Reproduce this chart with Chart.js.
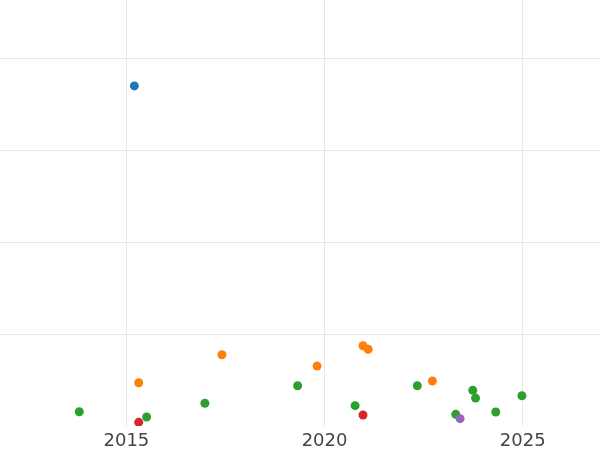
<!DOCTYPE html>
<html>
<head>
<meta charset="utf-8">
<script src="https://cdn.jsdelivr.net/npm/chart.js@4"></script>
<style>
  html, body { margin: 0; padding: 0; background: #fff; }
  canvas { display: block; }
</style>
</head>
<body>
<canvas id="chart" width="600" height="450"></canvas>
<script>
// points, [year, value]
const bluePoints = [[2015.20, 3.70]];
const orangePoints = [[2015.31, 0.47], [2017.41, 0.775], [2019.81, 0.652], [2020.97, 0.873], [2021.10, 0.834], [2022.72, 0.489]];
const greenPoints = [[2013.81, 0.155], [2015.51, 0.098], [2016.98, 0.247], [2019.32, 0.438], [2020.77, 0.221], [2022.34, 0.438],
                     [2023.31, 0.127], [2023.74, 0.388], [2023.81, 0.304], [2024.32, 0.152], [2024.98, 0.329]];
const redPoints = [[2015.31, 0.040], [2020.97, 0.120]];
const purplePoints = [[2023.42, 0.080]];

const xTicks = [2015, 2020, 2025];
const yGrid = [1, 2, 3, 4];

function toXY(pts) {
    return pts.map(p => ({ x: p[0], y: p[1] }));
}

function series(label, pts, color) {
    return {
        label: label,
        data: toXY(pts),
        backgroundColor: color,
        borderWidth: 0,
        pointRadius: 4.5,
        pointHoverRadius: 4.5
    };
}

new Chart(document.getElementById("chart").getContext("2d"), {
    type: "scatter",
    data: {
        datasets: [
            series("purple", purplePoints, "#9467bd"),
            series("red", redPoints, "#d62728"),
            series("green", greenPoints, "#2ca02c"),
            series("orange", orangePoints, "#ff7f0e"),
            series("blue", bluePoints, "#1f77b4")
        ]
    },
    options: {
        responsive: false,
        animation: false,
        layout: { padding: 0, autoPadding: false },
        plugins: {
            legend: { display: false },
            tooltip: { enabled: false }
        },
        scales: {
            x: {
                type: "linear",
                min: 2011.81,
                max: 2026.95,
                afterBuildTicks: axis => { axis.ticks = xTicks.map(v => ({ value: v })); },
                afterFit: axis => { axis.height = 24; },
                grid: { color: "#e8e8e8", drawTicks: false },
                border: { display: false },
                ticks: {
                    padding: 5,
                    color: "#444",
                    font: { family: "DejaVu Sans", size: 18 },
                    callback: v => String(v)
                }
            },
            y: {
                type: "linear",
                min: 0,
                max: 4.635,
                afterBuildTicks: axis => { axis.ticks = yGrid.map(v => ({ value: v })); },
                grid: { color: "#e8e8e8", drawTicks: false },
                border: { display: false },
                ticks: { display: false }
            }
        }
    }
});
</script>
</body>
</html>
